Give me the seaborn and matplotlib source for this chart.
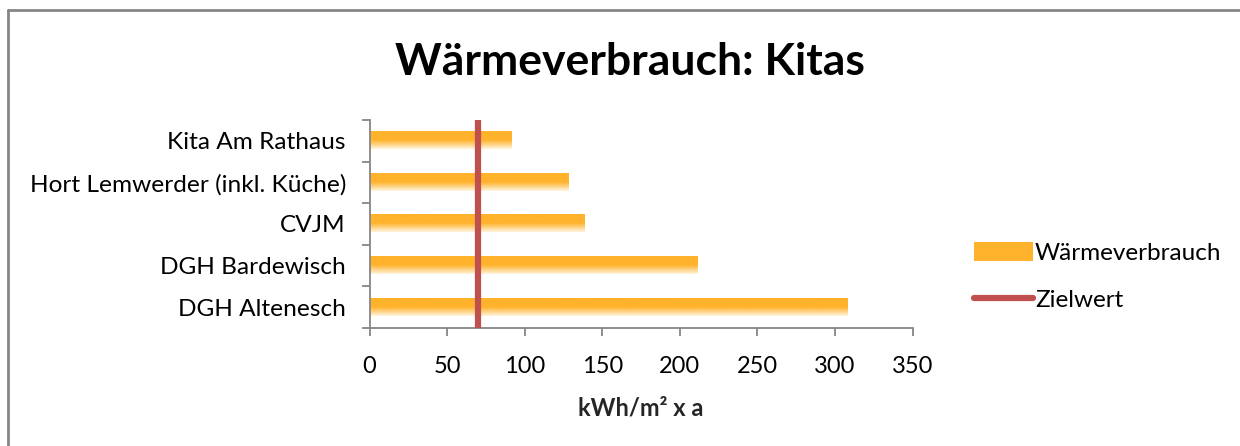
import numpy as np
import matplotlib
matplotlib.use("Agg")
import matplotlib.pyplot as plt
from matplotlib.lines import Line2D
from matplotlib.patches import Patch
from matplotlib.colors import LinearSegmentedColormap
import seaborn as sns

# data
categories = ["Kita Am Rathaus", "Hort Lemwerder (inkl. Küche)", "CVJM",
              "DGH Bardewisch", "DGH Altenesch"]
verbrauch = [91, 128, 138, 211, 308]
zielwert = 70
x_ticks = [0, 50, 100, 150, 200, 250, 300, 350]

ORANGE = "#FFB22B"
RED = "#C0504D"
GREY = "#868686"

sns.set_theme(style="white")
plt.rcParams["font.family"] = ["Lato", "DejaVu Sans"]
plt.rcParams["text.color"] = "black"
plt.rcParams["xtick.labelcolor"] = "black"
plt.rcParams["ytick.labelcolor"] = "black"

fig = plt.figure(figsize=(12.4, 4.46), dpi=100)
ax = fig.add_axes([0.298, 0.265, 0.438, 0.466])

sns.barplot(x=verbrauch, y=categories, orient="h", color=ORANGE,
            width=0.41, ax=ax, saturation=1)

# vertical gradient on each bar: solid orange on top, fading to pale at bottom
cmap = LinearSegmentedColormap.from_list(
    "fade", [(0, ORANGE), (0.5, ORANGE), (1, "#FFF4DE")])
grad = np.linspace(0, 1, 64).reshape(-1, 1)
for p in list(ax.patches):
    x0, y0 = p.get_x(), p.get_y()
    w, h = p.get_width(), p.get_height()
    p.set_visible(False)
    # y axis is inverted, so y0 is the top edge in display
    ax.imshow(grad, cmap=cmap, aspect="auto", interpolation="bilinear",
              extent=(x0, x0 + w, y0 + h, y0), zorder=2)

ax.axvline(zielwert, color=RED, lw=4.5, zorder=3, solid_capstyle="round")

ax.set_xlim(0, 350)
ax.set_ylim(len(categories) - 0.5, -0.5)
ax.set_xticks(x_ticks)
ax.set_xticklabels([str(t) for t in x_ticks], fontsize=17)
ax.set_yticks(range(len(categories)))
ax.set_yticklabels(categories, fontsize=17.6)
ax.set_yticks(np.arange(-0.5, len(categories)), minor=True)
ax.tick_params(axis="y", which="major", length=0, pad=17)
ax.tick_params(axis="y", which="minor", length=6, width=1.3, color=GREY,
               left=True)
ax.tick_params(axis="x", length=6, width=1.3, color=GREY, bottom=True, pad=14)

for s in ["top", "right"]:
    ax.spines[s].set_visible(False)
for s in ["left", "bottom"]:
    ax.spines[s].set_color(GREY)
    ax.spines[s].set_linewidth(1.3)

ax.set_xlabel("kWh/m² x a", fontsize=17, fontweight="bold", labelpad=14)
ax.set_ylabel("")

fig.text(0.508, 0.86, "Wärmeverbrauch: Kitas", ha="center", va="center",
         fontsize=32, fontweight="bold")

handles = [Patch(facecolor=ORANGE, edgecolor="none"),
           Line2D([0], [0], color=RED, lw=4.5, solid_capstyle="round")]
fig.legend(handles, ["Wärmeverbrauch", "Zielwert"], loc="center left",
           bbox_to_anchor=(0.768, 0.38), frameon=False, fontsize=17.5,
           handlelength=2.4, handleheight=0.85, handletextpad=0.1,
           labelspacing=1.05)

# chart frame (cropped at right and bottom in the reference)
fig.add_artist(Line2D([0.0068, 0.0068], [0, 0.978], color=GREY, lw=2,
                      transform=fig.transFigure))
fig.add_artist(Line2D([0.0068, 1], [0.978, 0.978], color=GREY, lw=2,
                      transform=fig.transFigure))

fig.savefig("out.png", dpi=100)
